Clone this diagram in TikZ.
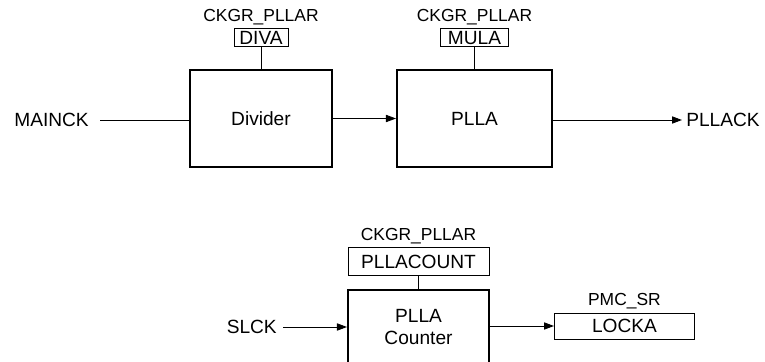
\documentclass[tikz,border=0pt]{standalone}
\usepackage{fontspec}
\setmainfont{Liberation Sans}
\usepackage{tikz}
\usetikzlibrary{arrows.meta, positioning}
\newcommand{\mainfont}{\fontsize{13.6}{16.3}\selectfont}
\newcommand{\regfont}{\fontsize{12.4}{14}\selectfont}

\begin{document}
\begin{tikzpicture}[
    x=0.025cm, y=-0.025cm,
    arr/.style={-{Triangle[length=0.25cm, width=0.18cm]}, line width=0.65pt},
    wire/.style={line width=0.65pt},
    block/.style={draw, line width=1.4pt, minimum height=2.425cm, align=center, font=\mainfont, inner sep=0pt},
    reg/.style={draw, line width=0.6pt, minimum height=0.45cm, inner sep=0pt, font=\mainfont},
    regname/.style={inner sep=0pt, font=\regfont},
    sig/.style={inner sep=0pt, font=\mainfont},
]
\useasboundingbox (0,0) rectangle (765,362);
\clip (0,0) rectangle (765,362);

% main path
\node[block, minimum width=3.55cm] (div) at (261,118.5) {Divider};
\node[block, minimum width=3.875cm] (plla) at (474.5,118.5) {PLLA};
\node[reg, minimum width=1.35cm, above=0.55cm of div] (diva) {DIVA};
\node[reg, minimum width=1.7cm, above=0.55cm of plla] (mula) {MULA};
\node[regname, above=0.08cm of diva] (divar) {CKGR\_PLLAR};
\node[regname, above=0.08cm of mula] (mular) {CKGR\_PLLAR};
\node[sig, anchor=east, inner xsep=0.275cm] (mainck) at (100,120) {MAINCK};
\node[sig, anchor=west, inner xsep=0.1cm] (pllack) at (682,120) {PLLACK};

\draw[wire] (diva) -- (div);
\draw[wire] (mula) -- (plla.north -| mula);
\draw[wire] (mainck) -- (mainck -| div.west);
\draw[arr] (div) -- (plla);
\draw[arr] (plla.east |- pllack) -- (pllack);

% lock counter
\node[block, minimum width=3.525cm, minimum height=1.85cm] (cnt) at (418.5,327) {PLLA\\Counter};
\node[reg, minimum width=3.525cm, minimum height=0.7cm, above=0.325cm of cnt] (count) {PLLACOUNT};
\node[regname, above=0.08cm of count] (countr) {CKGR\_PLLAR};
\node[reg, minimum width=3.5cm, minimum height=0.65cm, anchor=west] (locka) at (554,326) {LOCKA};
\node[regname, above=0.08cm of locka] (lockar) {PMC\_SR};
\node[sig, anchor=east, inner xsep=0.15cm] (slck) at (283,327) {SLCK};

\draw[wire] (count) -- (cnt);
\draw[arr] (slck) -- (slck -| cnt.west);
\draw[arr] (cnt.east |- locka) -- (locka);
\end{tikzpicture}
\end{document}
